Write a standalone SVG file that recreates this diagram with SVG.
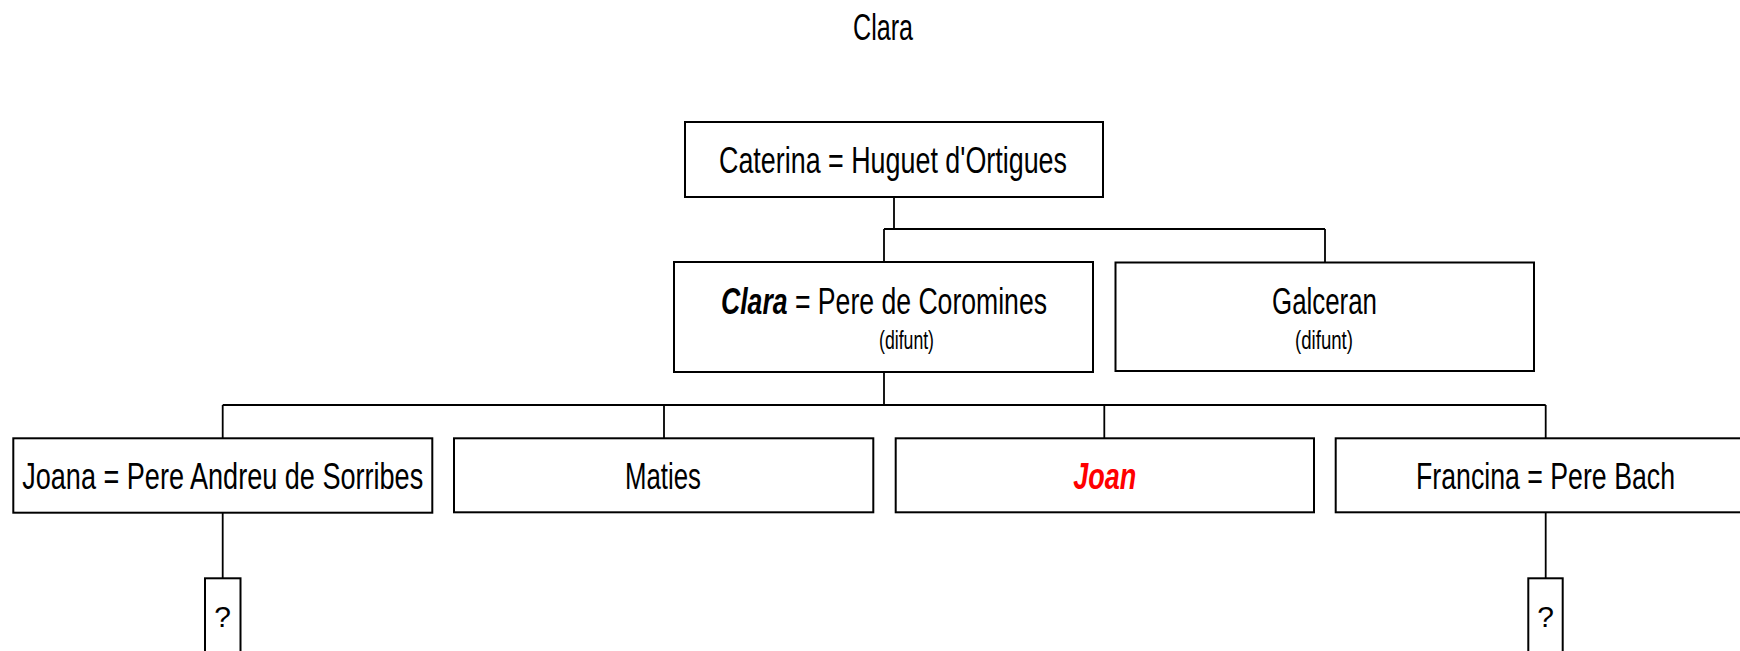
<svg xmlns="http://www.w3.org/2000/svg" width="1740" height="651" viewBox="0 0 1740 651">
<style>
.box{fill:#fff;stroke:#000;stroke-width:2}
.t{font-family:"Liberation Sans",Arial,sans-serif;font-size:36px;fill:#000;text-anchor:middle}
.s{font-family:"Liberation Sans",Arial,sans-serif;font-size:25px;fill:#000;text-anchor:middle}
.q{font-family:"Liberation Sans",Arial,sans-serif;font-size:30px;fill:#000;text-anchor:middle}
.bi{font-weight:bold;font-style:italic}
.c{fill:none;stroke:#000;stroke-width:1.8}
</style>
<rect width="1740" height="651" fill="#fff"/>
<text id="title" class="t" x="883" y="40" textLength="60" lengthAdjust="spacingAndGlyphs">Clara</text>
<g id="connectors">
<path class="c" d="M894 197V229M884 229H1325M884 229V262M1325 229V262"/>
<path class="c" d="M884 372V405M222.7 405H1545.7M222.7 405V438M664 405V438M1104.3 405V438M1545.7 405V438"/>
<path class="c" d="M222.7 513V578M1545.7 513V578"/>
</g>
<g id="caterina">
<rect class="box" x="685" y="122" width="418" height="75"/>
<text class="t" x="893" y="173" textLength="348" lengthAdjust="spacingAndGlyphs">Caterina = Huguet d'Ortigues</text>
</g>
<g id="clara">
<rect class="box" x="674" y="262" width="419" height="110"/>
<text class="t" x="884" y="314" textLength="326" lengthAdjust="spacingAndGlyphs"><tspan class="bi">Clara</tspan> = Pere de Coromines</text>
<text class="s" x="906.5" y="349" textLength="55" lengthAdjust="spacingAndGlyphs">(difunt)</text>
</g>
<g id="galceran">
<rect class="box" x="1115.5" y="262.5" width="418.5" height="108.5"/>
<text class="t" x="1324.5" y="314" textLength="105" lengthAdjust="spacingAndGlyphs">Galceran</text>
<text class="s" x="1324" y="349" textLength="58" lengthAdjust="spacingAndGlyphs">(difunt)</text>
</g>
<g id="joana">
<rect class="box" x="13.3" y="438.3" width="419" height="74.4"/>
<text class="t" x="222.7" y="489" textLength="401" lengthAdjust="spacingAndGlyphs">Joana = Pere Andreu de Sorribes</text>
</g>
<g id="maties">
<rect class="box" x="454" y="438.3" width="419.3" height="74"/>
<text class="t" x="663" y="489" textLength="76" lengthAdjust="spacingAndGlyphs">Maties</text>
</g>
<g id="joan">
<rect class="box" x="895.7" y="438.3" width="418.3" height="74"/>
<text class="t bi" x="1104.7" y="489" style="fill:#f00" textLength="63" lengthAdjust="spacingAndGlyphs">Joan</text>
</g>
<g id="francina">
<rect class="box" x="1335.7" y="438.3" width="420" height="74"/>
<text class="t" x="1545.5" y="489" textLength="259" lengthAdjust="spacingAndGlyphs">Francina = Pere Bach</text>
</g>
<g id="q1">
<rect class="box" x="205" y="578.3" width="35.5" height="90"/>
<text class="q" x="222.5" y="627">?</text>
</g>
<g id="q2">
<rect class="box" x="1528.3" y="578.3" width="34.4" height="90"/>
<text class="q" x="1545.5" y="627">?</text>
</g>
</svg>
